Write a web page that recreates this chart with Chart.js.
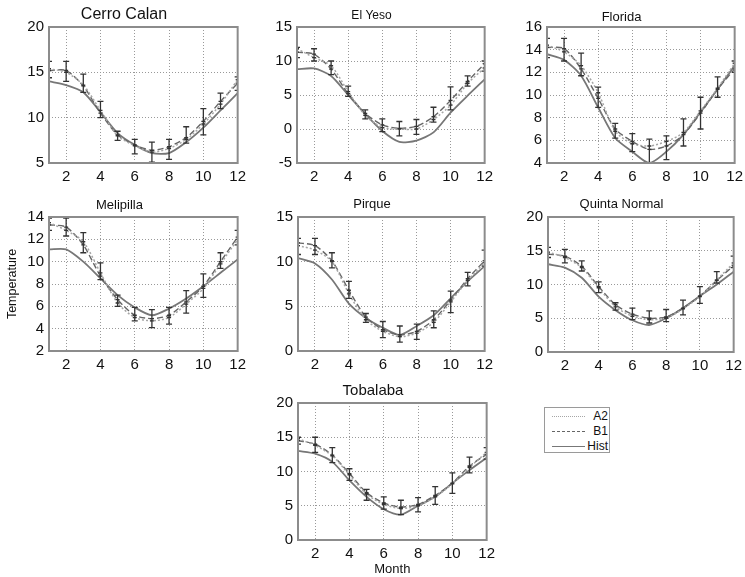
<!DOCTYPE html>
<html>
<head>
<meta charset="utf-8">
<script src="https://cdn.jsdelivr.net/npm/chart.js"></script>
<style>
  body { margin: 0; background: #fff; }
  #wrap { position: relative; width: 745px; height: 577px; overflow: hidden; font-family: 'Liberation Sans', Arial, sans-serif; }
  #wrap canvas { position: absolute; }
  #legend { position: absolute; left: 544px; top: 407px; width: 64px; height: 44px; border: 1px solid #9a9a9a; background: #fff; }
  .lrow { position: absolute; left: 0; width: 64px; height: 14px; }
  .lline { position: absolute; left: 7px; width: 33px; top: 7px; }
  .ltext { position: absolute; right: 1px; top: 0; font-size: 12px; line-height: 14px; color: #111; }
</style>
</head>
<body>
<div id="wrap">
  <div id="legend"></div>
</div>
<script>
const months = [1, 2, 3, 4, 5, 6, 7, 8, 9, 10, 11, 12];
const xTicks = [2, 4, 6, 8, 10, 12];
const seriesNames = ['A2', 'B1', 'Hist'];

// Cerro Calan
const calanA2   = [15.4, 15.0, 13.6, 10.8, 8.0, 6.9, 6.2, 6.6, 7.6, 9.3, 11.5, 14.2];
const calanB1   = [15.2, 15.2, 13.5, 10.5, 8.1, 7.0, 6.4, 6.8, 7.8, 9.6, 11.8, 13.8];
const calanHist = [14.0, 13.6, 12.8, 10.6, 8.3, 7.0, 6.1, 6.1, 7.3, 8.9, 10.8, 12.7];
const calanLo   = [14.4, 14.0, 12.8, 10.0, 7.5, 6.0, 5.1, 5.4, 7.2, 8.1, 11.0, 13.0];
const calanHi   = [16.2, 16.2, 14.8, 11.8, 8.5, 7.6, 7.3, 7.6, 9.0, 11.0, 12.7, 14.5];
const calanTicks = [5, 10, 15, 20];

// El Yeso
const yesoA2   = [11.8, 10.5, 9.3, 5.5, 2.0, 0.2, 0.0, 0.0, 1.4, 3.5, 6.7, 9.0];
const yesoB1   = [11.3, 11.0, 8.8, 5.2, 2.3, 0.6, 0.1, 0.4, 1.8, 4.2, 7.0, 9.6];
const yesoHist = [8.8, 8.9, 7.8, 5.0, 2.2, -0.3, -1.9, -1.7, -0.5, 2.4, 4.9, 7.3];
const yesoLo   = [10.5, 10.0, 8.0, 4.8, 1.5, -0.4, -1.0, -0.8, 1.0, 2.8, 6.3, 8.5];
const yesoHi   = [12.0, 11.8, 10.0, 6.3, 2.8, 1.5, 1.1, 1.4, 3.2, 6.2, 7.8, 10.0];
const yesoTicks = [-5, 0, 5, 10, 15];

// Florida
const floridaA2   = [14.4, 13.8, 12.6, 10.2, 6.8, 5.7, 5.5, 5.9, 6.7, 8.6, 10.6, 12.8];
const floridaB1   = [14.2, 14.1, 12.3, 9.7, 7.0, 5.9, 5.2, 5.5, 6.5, 8.4, 10.5, 12.3];
const floridaHist = [13.6, 13.1, 11.7, 8.9, 6.2, 5.0, 4.0, 5.0, 6.5, 8.5, 10.5, 12.6];
const floridaLo   = [13.3, 13.0, 11.7, 8.9, 6.2, 5.0, 4.0, 4.3, 5.5, 7.0, 9.8, 12.0];
const floridaHi   = [15.0, 15.0, 13.7, 10.7, 7.5, 6.6, 6.1, 6.4, 7.9, 9.8, 11.6, 13.0];
const floridaTicks = [4, 6, 8, 10, 12, 14, 16];

// Melipilla
const melipillaA2   = [13.5, 12.8, 11.8, 9.0, 6.3, 5.0, 4.7, 5.0, 6.2, 7.6, 9.8, 12.0];
const melipillaB1   = [13.3, 13.1, 11.5, 8.7, 6.6, 5.2, 4.9, 5.2, 6.4, 7.8, 10.0, 12.2];
const melipillaHist = [11.1, 11.1, 10.0, 8.5, 7.0, 5.9, 5.2, 5.8, 6.7, 7.8, 9.0, 10.2];
const melipillaLo   = [12.8, 12.3, 10.8, 8.4, 6.0, 4.7, 4.1, 4.4, 5.4, 6.8, 9.4, 11.5];
const melipillaHi   = [13.9, 13.9, 12.6, 9.9, 7.0, 5.9, 5.7, 5.9, 7.4, 8.9, 10.8, 12.8];
const melipillaTicks = [2, 4, 6, 8, 10, 12, 14];

// Pirque
const pirqueA2   = [11.8, 11.3, 10.0, 6.4, 3.5, 2.2, 1.6, 2.0, 3.2, 5.5, 7.9, 9.9];
const pirqueB1   = [12.1, 11.8, 10.1, 6.8, 3.8, 2.4, 1.8, 2.2, 3.5, 5.7, 8.1, 10.1];
const pirqueHist = [10.4, 9.8, 8.0, 5.3, 3.7, 2.6, 1.8, 2.8, 4.0, 5.9, 7.8, 9.5];
const pirqueLo   = [10.8, 10.8, 9.3, 5.9, 3.2, 1.5, 1.0, 1.3, 2.6, 4.3, 7.3, 9.5];
const pirqueHi   = [12.6, 12.6, 11.0, 7.8, 4.2, 3.3, 2.8, 3.0, 4.5, 6.7, 8.8, 11.3];
const pirqueTicks = [0, 5, 10, 15];

// Quinta Normal
const quintaA2   = [14.8, 14.0, 12.5, 9.5, 6.7, 5.3, 4.8, 5.0, 6.4, 8.2, 10.7, 13.2];
const quintaB1   = [14.5, 14.2, 12.7, 9.7, 7.0, 5.6, 5.0, 5.2, 6.5, 8.3, 10.6, 12.8];
const quintaHist = [13.0, 12.5, 11.0, 8.2, 6.2, 4.7, 4.0, 5.0, 6.5, 8.3, 10.0, 11.9];
const quintaLo   = [14.0, 13.2, 12.0, 8.8, 6.2, 4.8, 4.3, 4.5, 5.5, 7.2, 10.2, 12.5];
const quintaHi   = [15.5, 15.2, 13.5, 10.4, 7.3, 6.5, 6.1, 6.3, 7.7, 9.7, 11.9, 14.2];
const quintaTicks = [0, 5, 10, 15, 20];

// Tobalaba
const tobalabaA2   = [14.8, 13.8, 12.3, 9.5, 6.7, 5.2, 4.6, 5.0, 6.3, 8.2, 10.6, 12.8];
const tobalabaB1   = [14.5, 14.0, 12.4, 9.7, 6.9, 5.4, 4.8, 5.2, 6.5, 8.3, 10.8, 12.5];
const tobalabaHist = [13.0, 12.6, 11.4, 8.7, 6.3, 4.5, 3.7, 5.0, 6.3, 8.3, 10.2, 12.0];
const tobalabaLo   = [14.0, 12.8, 11.3, 8.7, 5.8, 4.5, 3.7, 4.1, 5.2, 6.8, 9.8, 11.8];
const tobalabaHi   = [15.0, 15.0, 13.5, 10.4, 7.4, 6.3, 5.8, 6.2, 7.8, 9.8, 12.1, 13.5];
const tobalabaTicks = [0, 5, 10, 15, 20];

const FONT = "'Liberation Sans', Arial, sans-serif";
const wrap = document.getElementById('wrap');

// box = [plotLeft, plotTop, plotWidth, plotHeight], top = canvas top
const panels = [
  {name: 'Cerro Calan', a2: calanA2, b1: calanB1, hist: calanHist, lo: calanLo, hi: calanHi, yt: calanTicks,
   box: [49, 27, 190, 136], top: 0, titleY: 15, titleSize: 16},
  {name: 'El Yeso', a2: yesoA2, b1: yesoB1, hist: yesoHist, lo: yesoLo, hi: yesoHi, yt: yesoTicks,
   box: [297, 27, 189, 136], top: 0, titleY: 16, titleSize: 12},
  {name: 'Florida', a2: floridaA2, b1: floridaB1, hist: floridaHist, lo: floridaLo, hi: floridaHi, yt: floridaTicks,
   box: [547, 27, 189, 136], top: 0, titleY: 17, titleSize: 13},
  {name: 'Melipilla', a2: melipillaA2, b1: melipillaB1, hist: melipillaHist, lo: melipillaLo, hi: melipillaHi, yt: melipillaTicks,
   box: [49, 217, 190, 134], top: 185, titleY: 205, titleSize: 13, yTitle: 'Temperature'},
  {name: 'Pirque', a2: pirqueA2, b1: pirqueB1, hist: pirqueHist, lo: pirqueLo, hi: pirqueHi, yt: pirqueTicks,
   box: [298, 217, 188, 134], top: 185, titleY: 204, titleSize: 13},
  {name: 'Quinta Normal', a2: quintaA2, b1: quintaB1, hist: quintaHist, lo: quintaLo, hi: quintaHi, yt: quintaTicks,
   box: [548, 217, 187, 135], top: 185, titleY: 204, titleSize: 13},
  {name: 'Tobalaba', a2: tobalabaA2, b1: tobalabaB1, hist: tobalabaHist, lo: tobalabaLo, hi: tobalabaHi, yt: tobalabaTicks,
   box: [298, 403, 190, 137], top: 372, titleY: 391, titleSize: 15, xTitle: 'Month'}
];

const lineStyles = {
  A2:   {color: '#a6a6a6', width: 1.5, dash: [2, 2]},
  B1:   {color: '#666666', width: 1.4, dash: [6, 3]},
  Hist: {color: '#777777', width: 1.8, dash: []}
};

// error bars + full frame around the plot area
const errPlugin = {
  id: 'errbars',
  afterDatasetsDraw(chart) {
    const {ctx, chartArea: a, scales: {x, y}} = chart;
    const ds = chart.data.datasets;
    const lo = ds[2].errLo, hi = ds[2].errHi;
    ctx.save();
    ctx.beginPath();
    ctx.rect(a.left, a.top, a.right - a.left, a.bottom - a.top);
    ctx.clip();
    ctx.strokeStyle = '#333333';
    ctx.lineWidth = 1.3;
    months.forEach((m, i) => {
      const px = x.getPixelForValue(m);
      const y1 = y.getPixelForValue(lo[i]);
      const y2 = y.getPixelForValue(hi[i]);
      ctx.beginPath();
      ctx.moveTo(px, y1); ctx.lineTo(px, y2);
      ctx.moveTo(px - 3, y1); ctx.lineTo(px + 3, y1);
      ctx.moveTo(px - 3, y2); ctx.lineTo(px + 3, y2);
      [ds[0].data[i].y, ds[1].data[i].y].forEach(v => {
        const yy = y.getPixelForValue(v);
        ctx.moveTo(px - 2, yy); ctx.lineTo(px + 2, yy);
      });
      ctx.stroke();
    });
    ctx.restore();
    ctx.save();
    ctx.strokeStyle = '#8c8c8c';
    ctx.lineWidth = 2;
    ctx.strokeRect(a.left, a.top, a.right - a.left, a.bottom - a.top);
    ctx.restore();
  }
};

function makePanel(p) {
  const yW = p.yTitle ? p.box[0] : 40;
  const axH = p.xTitle ? 577 - (p.box[1] + p.box[3]) : 22;
  const padR = 12;
  const left = p.box[0] - yW;
  const w = yW + p.box[2] + padR;
  const h = p.box[1] - p.top + p.box[3] + axH;
  const cv = document.createElement('canvas');
  cv.width = w; cv.height = h;
  cv.style.left = left + 'px'; cv.style.top = p.top + 'px';
  cv.style.width = w + 'px'; cv.style.height = h + 'px';
  wrap.appendChild(cv);

  const lh = p.titleSize * 1.2;
  const tPadTop = p.titleY - p.top - lh / 2;
  const tPadBot = p.box[1] - p.top - tPadTop - lh;

  const mk = (name, vals) => {
    const st = lineStyles[name];
    return {
      label: name,
      data: months.map((m, i) => ({x: m, y: vals[i]})),
      borderColor: st.color, borderWidth: st.width, borderDash: st.dash,
      pointRadius: 0, tension: 0.25, fill: false
    };
  };
  const histDs = mk('Hist', p.hist);
  histDs.errLo = p.lo;
  histDs.errHi = p.hi;

  new Chart(cv, {
    type: 'line',
    data: {datasets: [mk('A2', p.a2), mk('B1', p.b1), histDs]},
    options: {
      responsive: false, animation: false,
      layout: {padding: {left: 0, right: padR, top: 0, bottom: 0}},
      plugins: {
        legend: {display: false},
        tooltip: {enabled: false},
        title: {
          display: true, text: p.name, color: '#111',
          font: {family: FONT, size: p.titleSize, weight: 'normal', lineHeight: 1.2},
          padding: {top: tPadTop, bottom: tPadBot}
        }
      },
      scales: {
        x: {
          type: 'linear', min: 1, max: 12,
          afterBuildTicks: s => { s.ticks = xTicks.map(v => ({value: v})); },
          afterFit: s => { s.height = axH; },
          grid: {color: '#999999', lineWidth: 1, drawTicks: false},
          border: {display: false, dash: [1, 2]},
          ticks: {color: '#111', font: {family: FONT, size: 15}, padding: 5, maxRotation: 0, autoSkip: false},
          title: {display: !!p.xTitle, text: p.xTitle || '', color: '#111',
                  font: {family: FONT, size: 13, lineHeight: 1.2}, padding: {top: 0, bottom: 0}}
        },
        y: {
          type: 'linear', min: p.yt[0], max: p.yt[p.yt.length - 1],
          afterBuildTicks: s => { s.ticks = p.yt.map(v => ({value: v})); },
          afterFit: s => { s.width = yW; },
          grid: {color: '#999999', lineWidth: 1, drawTicks: false},
          border: {display: false, dash: [1, 2]},
          ticks: {color: '#111', font: {family: FONT, size: 15}, padding: 5, autoSkip: false},
          title: {display: !!p.yTitle, text: p.yTitle || '', color: '#111',
                  font: {family: FONT, size: 12.5, lineHeight: 1.2}, padding: {top: 5.5, bottom: 0}}
        }
      }
    },
    plugins: [errPlugin]
  });
}

panels.forEach(makePanel);

// legend box
const legend = document.getElementById('legend');
seriesNames.forEach((name, i) => {
  const st = lineStyles[name];
  const row = document.createElement('div');
  row.className = 'lrow';
  row.style.top = (1 + i * 15) + 'px';
  const ln = document.createElement('div');
  ln.className = 'lline';
  const kind = name === 'A2' ? 'dotted' : (name === 'B1' ? 'dashed' : 'solid');
  ln.style.borderTop = st.width + 'px ' + kind + ' ' + st.color;
  const tx = document.createElement('span');
  tx.className = 'ltext';
  tx.textContent = name;
  row.appendChild(ln);
  row.appendChild(tx);
  legend.appendChild(row);
});
</script>
</body>
</html>
